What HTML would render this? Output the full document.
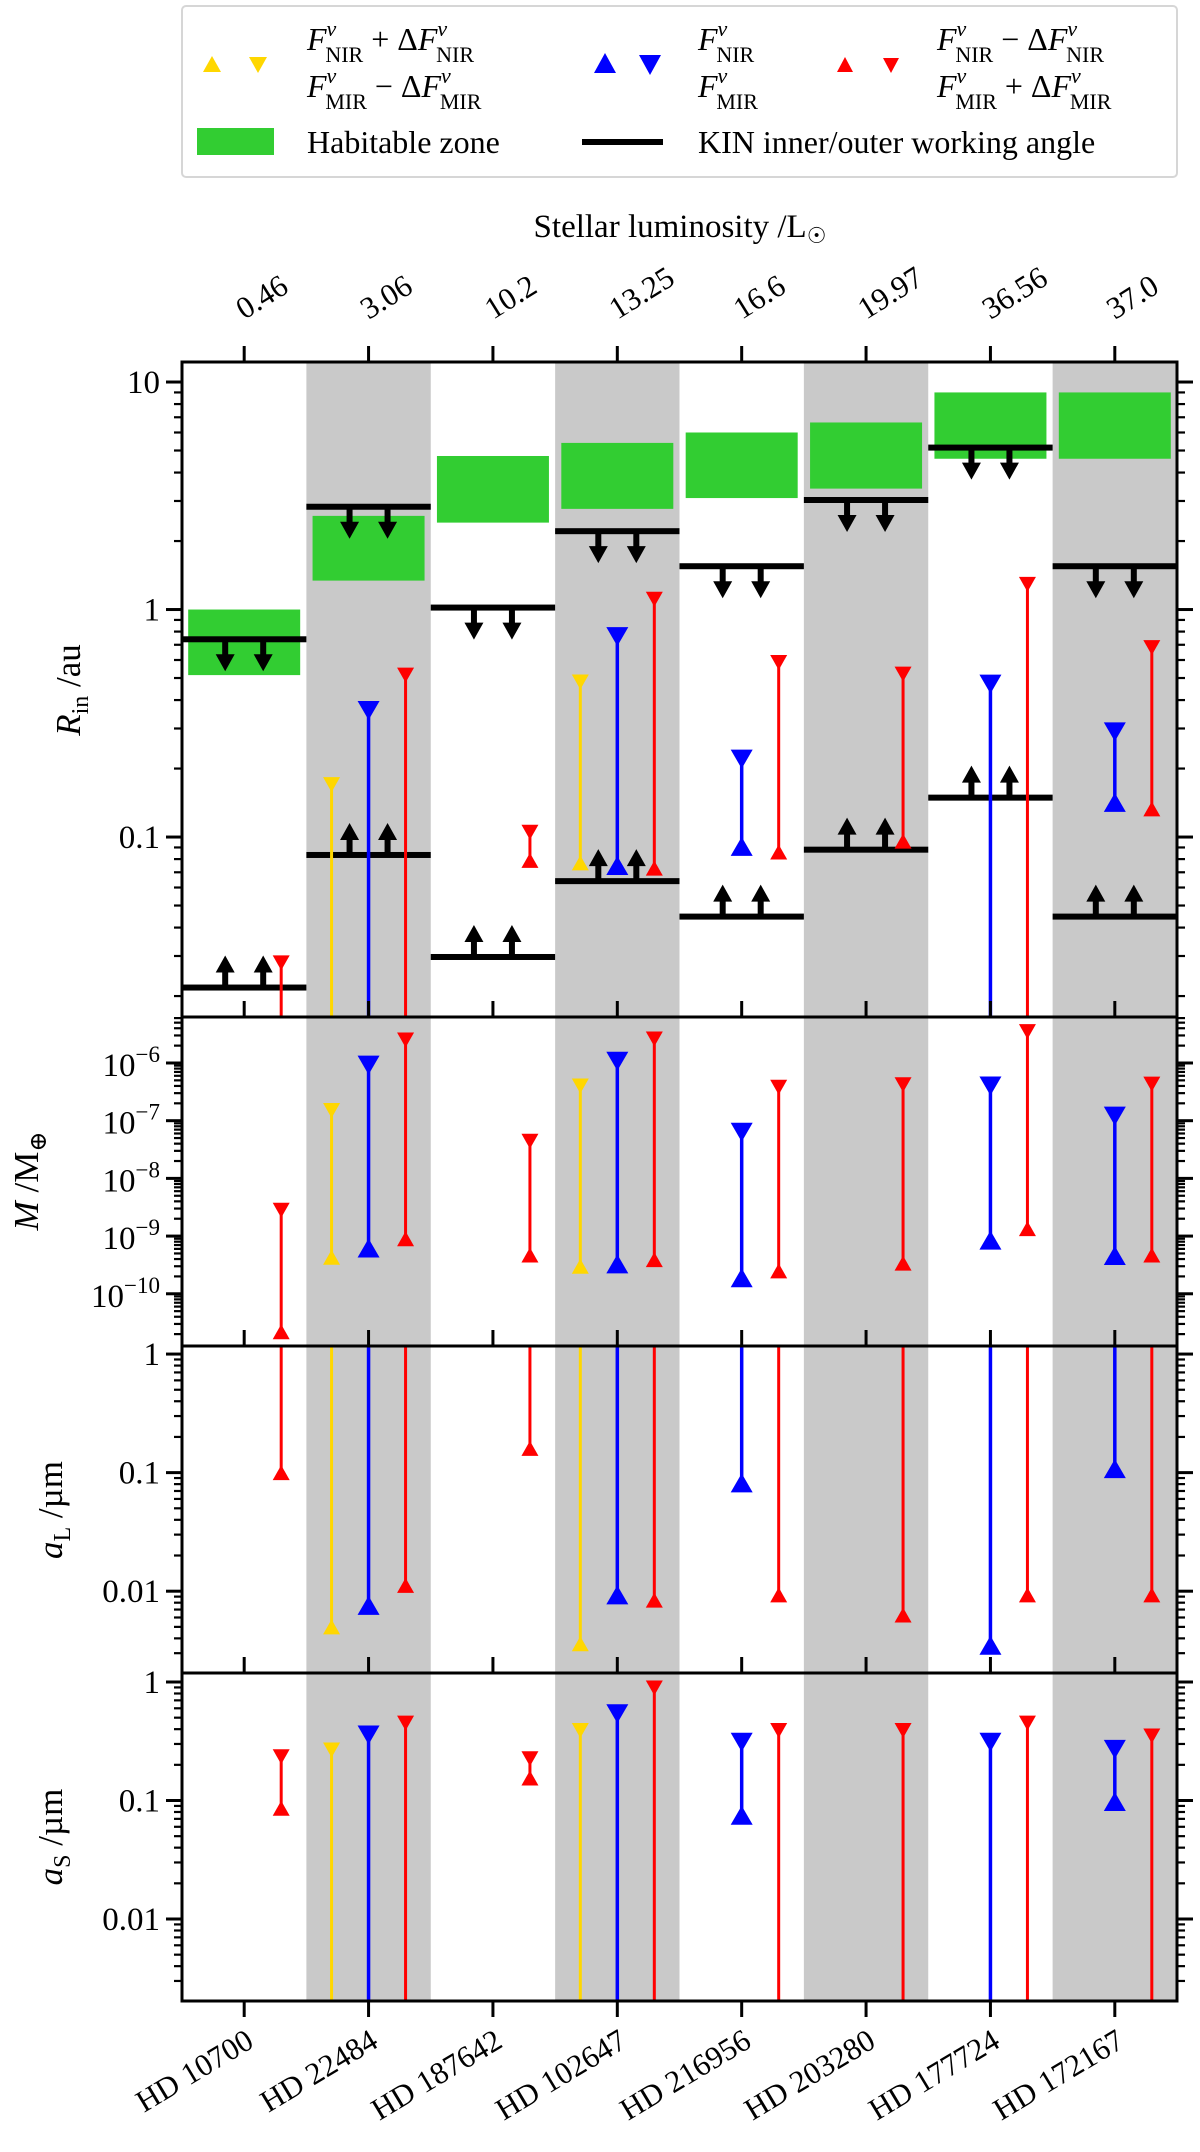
<!DOCTYPE html>
<html><head><meta charset="utf-8"><style>
html,body{margin:0;padding:0;background:#fff;width:1200px;height:2152px;overflow:hidden;}
svg{display:block;}
svg text, svg tspan{font-family:"Liberation Serif","DejaVu Serif",serif;}
</style></head><body>
<svg id="chart" xmlns="http://www.w3.org/2000/svg" width="1200" height="2152" viewBox="0 0 1200 2152" font-family="Liberation Serif, serif">
<defs id="defs"></defs>
<g id="plot"></g>
<g id="legend">
  <rect x="182" y="6" width="995" height="171" rx="4" fill="#fff" stroke="#d6d6d6" stroke-width="2"/>
  <polygon points="212,56 203,72 221,72" fill="#FFD700"/>
  <polygon points="249,57 267,57 258,73" fill="#FFD700"/>
  <text x="307" y="50" font-size="32" font-family="Liberation Serif, serif"><tspan font-style="italic">F</tspan><tspan font-size="22" dy="-14" font-style="italic">ν</tspan><tspan font-size="22" dx="-11" dy="26">NIR</tspan><tspan dy="-12"> + Δ</tspan><tspan font-style="italic">F</tspan><tspan font-size="22" dy="-14" font-style="italic">ν</tspan><tspan font-size="22" dx="-11" dy="26">NIR</tspan></text>
  <text x="307" y="97" font-size="32" font-family="Liberation Serif, serif"><tspan font-style="italic">F</tspan><tspan font-size="22" dy="-14" font-style="italic">ν</tspan><tspan font-size="22" dx="-11" dy="26">MIR</tspan><tspan dy="-12"> − Δ</tspan><tspan font-style="italic">F</tspan><tspan font-size="22" dy="-14" font-style="italic">ν</tspan><tspan font-size="22" dx="-11" dy="26">MIR</tspan></text>
  <polygon points="605,53 594,73 616,73" fill="#0000FF"/>
  <polygon points="639,55 661,55 650,75" fill="#0000FF"/>
  <text x="698" y="50" font-size="32" font-family="Liberation Serif, serif"><tspan font-style="italic">F</tspan><tspan font-size="22" dy="-14" font-style="italic">ν</tspan><tspan font-size="22" dx="-11" dy="26">NIR</tspan></text>
  <text x="698" y="97" font-size="32" font-family="Liberation Serif, serif"><tspan font-style="italic">F</tspan><tspan font-size="22" dy="-14" font-style="italic">ν</tspan><tspan font-size="22" dx="-11" dy="26">MIR</tspan></text>
  <polygon points="845,57 837,72 853,72" fill="#FF0000"/>
  <polygon points="883,58 899,58 891,73" fill="#FF0000"/>
  <text x="937" y="50" font-size="32" font-family="Liberation Serif, serif"><tspan font-style="italic">F</tspan><tspan font-size="22" dy="-14" font-style="italic">ν</tspan><tspan font-size="22" dx="-11" dy="26">NIR</tspan><tspan dy="-12"> − Δ</tspan><tspan font-style="italic">F</tspan><tspan font-size="22" dy="-14" font-style="italic">ν</tspan><tspan font-size="22" dx="-11" dy="26">NIR</tspan></text>
  <text x="937" y="97" font-size="32" font-family="Liberation Serif, serif"><tspan font-style="italic">F</tspan><tspan font-size="22" dy="-14" font-style="italic">ν</tspan><tspan font-size="22" dx="-11" dy="26">MIR</tspan><tspan dy="-12"> + Δ</tspan><tspan font-style="italic">F</tspan><tspan font-size="22" dy="-14" font-style="italic">ν</tspan><tspan font-size="22" dx="-11" dy="26">MIR</tspan></text>
  <rect x="197" y="128" width="77" height="27" fill="#32CD32"/>
  <text x="307" y="153" font-size="32" font-family="Liberation Serif, serif">Habitable zone</text>
  <rect x="582" y="139" width="81" height="6" fill="#000"/>
  <text x="698" y="153" font-size="32" font-family="Liberation Serif, serif">KIN inner/outer working angle</text>
</g>
<text x="680" y="237" font-size="33" font-family="Liberation Serif, serif" text-anchor="middle">Stellar luminosity /L<tspan font-size="22" dy="6">☉</tspan></text>
</svg>
<script>
// ---------- data ----------
const stars = ["HD 10700","HD 22484","HD 187642","HD 102647","HD 216956","HD 203280","HD 177724","HD 172167"];
const luminosity = ["0.46","3.06","10.2","13.25","16.6","19.97","36.56","37.0"];
const OFFLO = 1e-30, OFFHI = 1e30;
// Panel 1: R_in
const hzInner = [0.515,1.34,2.41,2.77,3.09,3.4,4.6,4.6];
const hzOuter = [1.0,2.58,4.73,5.4,6.0,6.64,9.0,9.0];
const kinInner = [0.0218,0.0834,0.0297,0.064,0.0447,0.088,0.149,0.0447];
const kinOuter = [0.74,2.83,1.02,2.21,1.55,3.03,5.15,1.55];
const rinYellow = [null,[OFFLO,0.17],null,[0.077,0.48],null,null,null,null];
const rinBlue = [null,[OFFLO,0.36],null,[0.075,0.76],[0.091,0.22],null,[OFFLO,0.47],[0.142,0.29]];
const rinRed = [[OFFLO,0.028],[OFFLO,0.515],[0.079,0.105],[0.073,1.11],[0.086,0.585],[0.096,0.52],[OFFLO,1.29],[0.133,0.68]];
// Panel 2: M
const mYellow = [null,[4.3e-10,1.5e-7],null,[3e-10,4e-7],null,null,null,null];
const mBlue = [null,[6.2e-10,9.2e-7],null,[3.3e-10,1.07e-6],[1.9e-10,6.3e-8],null,[8.5e-10,4e-7],[4.6e-10,1.2e-7]];
const mRed = [[2.2e-11,2.8e-9],[9e-10,2.5e-6],[4.7e-10,4.4e-8],[3.9e-10,2.6e-6],[2.5e-10,3.8e-7],[3.4e-10,4.2e-7],[1.35e-9,3.5e-6],[4.7e-10,4.3e-7]];
// Panel 3: a_L
const aLYellow = [null,[0.005,OFFHI],null,[0.0036,OFFHI],null,null,null,null];
const aLBlue = [null,[0.0076,OFFHI],null,[0.0093,OFFHI],[0.082,OFFHI],null,[0.0035,OFFHI],[0.108,OFFHI]];
const aLRed = [[0.1,OFFHI],[0.0112,OFFHI],[0.16,OFFHI],[0.0084,OFFHI],[0.0093,OFFHI],[0.0063,OFFHI],[0.0093,OFFHI],[0.0093,OFFHI]];
// Panel 4: a_S
const aSYellow = [null,[OFFLO,0.267],null,[OFFLO,0.39],null,null,null,null];
const aSBlue = [null,[OFFLO,0.357],null,[OFFLO,0.54],[0.075,0.31],null,[OFFLO,0.31],[0.098,0.27]];
const aSRed = [[0.086,0.234],[OFFLO,0.45],[0.155,0.225],[OFFLO,0.89],[OFFLO,0.39],[OFFLO,0.39],[OFFLO,0.45],[OFFLO,0.35]];
// tick labels
const p1Ticks = [[10,"10"],[1,"1"],[0.1,"0.1"]];
const p2Ticks = [[1e-6,"−6"],[1e-7,"−7"],[1e-8,"−8"],[1e-9,"−9"],[1e-10,"−10"]];
const p34Ticks = [[1,"1"],[0.1,"0.1"],[0.01,"0.01"]];

// ---------- layout ----------
const NS = "http://www.w3.org/2000/svg";
const FONT = "Liberation Serif, DejaVu Serif, serif";
const X0 = 182, X1 = 1177;
const nStar = stars.length;
const band = (X1 - X0) / nStar;
function xS(i){ return X0 + band * (i + 0.5); }
const panels = [
  {name:"rin", top:362, bot:1017, lo:-1.791, hi:1.088},
  {name:"mass", top:1017, bot:1346, lo:-10.905, hi:-5.203},
  {name:"al", top:1346, bot:1673, lo:-2.69, hi:0.068},
  {name:"as", top:1673, bot:2001, lo:-2.692, hi:0.076}
];
function yP(p, v){ return p.bot - (Math.log10(v) - p.lo) / (p.hi - p.lo) * (p.bot - p.top); }
const plot = document.getElementById("plot");
const defs = document.getElementById("defs");
function mk(tag, attrs, parent){
  const e = document.createElementNS(NS, tag);
  for (const k in attrs) e.setAttribute(k, attrs[k]);
  (parent || plot).appendChild(e);
  return e;
}

// backgrounds
const bg = mk("g", {});


for (let i = 1; i < nStar; i += 2) {
  const r = mk("rect", {x: X0 + band*i, y: 362, width: band, height: 2001-362, fill: "#c9c9c9"}, bg);
  
  
}

// clip paths
panels.forEach((p, k) => {
  const cp = mk("clipPath", {id: "clip" + k}, defs);
  mk("rect", {x: X0, y: p.top, width: X1 - X0, height: p.bot - p.top}, cp);
});

function tri(x, y, w, h, up){
  return up ? `${x},${y-h/2} ${x-w/2},${y+h/2} ${x+w/2},${y+h/2}`
            : `${x-w/2},${y-h/2} ${x+w/2},${y-h/2} ${x},${y+h/2}`;
}
function drawSeries(k, data, color, dx, w, h, lw, nm){
  const p = panels[k];
  const g = mk("g", {"clip-path": `url(#clip${k})`});
  
  
  data.forEach((d, i) => {
    if (!d) return;
    const x = xS(i) + dx;
    const yl = Math.min(yP(p, d[0]), p.bot + 50), yh = Math.max(yP(p, d[1]), p.top - 50);
    const ln = mk("line", {x1: x, x2: x, y1: yl, y2: yh, stroke: color, "stroke-width": lw}, g);
    
    
    const m1 = mk("polygon", {points: tri(x, yP(p, d[0]), w, h, true), fill: color}, g);
    
    
    const m2 = mk("polygon", {points: tri(x, yP(p, d[1]), w, h, false), fill: color}, g);
    
    
  });
}

// Panel 1 habitable zones & KIN
{
  const p = panels[0];
  const g = mk("g", {"clip-path": "url(#clip0)"});
  
  
  for (let i = 0; i < nStar; i++) {
    const yt = yP(p, hzOuter[i]), yb = yP(p, hzInner[i]);
    const r = mk("rect", {x: xS(i) - 56, y: yt, width: 112, height: yb - yt, fill: "#32CD32"}, g);
    
    
  }
  const gk = mk("g", {"clip-path": "url(#clip0)"});
  
  
  function arrow(x, y0, dir){
    const sh = 6, len = 32, hw = 9.5, hl = 17;
    const yt = y0 + dir*len, yb = y0 + dir*(len - hl);
    return `${x-sh/2},${y0} ${x+sh/2},${y0} ${x+sh/2},${yb} ${x+hw},${yb} ${x},${yt} ${x-hw},${yb} ${x-sh/2},${yb}`;
  }
  for (let i = 0; i < nStar; i++) {
    [[kinOuter[i], 1, 'outer'], [kinInner[i], -1, 'inner']].forEach(([v, dir, nm]) => {
      const y = yP(p, v);
      const l = mk("rect", {x: X0 + band*i, y: y - 3, width: band, height: 6, fill: "#000"}, gk);
      
      
      [-19, 19].forEach(o => {
        const a = mk("polygon", {points: arrow(xS(i) + o, y, dir), fill: "#000"}, gk);
        
        
      });
    });
  }
}

const YOFF = -37, ROFF = 37;
const allSeries = [
  [rinYellow, rinBlue, rinRed],
  [mYellow, mBlue, mRed],
  [aLYellow, aLBlue, aLRed],
  [aSYellow, aSBlue, aSRed]
];
allSeries.forEach((s, k) => {
  drawSeries(k, s[0], "#FFD700", YOFF, 17, 15, 3, 'yellow');
  drawSeries(k, s[1], "#0000FF", 0, 22, 19, 3.5, 'blue');
  drawSeries(k, s[2], "#FF0000", ROFF, 17, 15, 3, 'red');
});

// axes, ticks
const ax = mk("g", {stroke: "#000", fill: "none"});


panels.forEach((p, k) => {
  const fr = mk("rect", {x: X0, y: p.top, width: X1 - X0, height: p.bot - p.top, "stroke-width": 3}, ax);
  
  
  for (let i = 0; i < nStar; i++) {
    const t = mk("line", {x1: xS(i), x2: xS(i), y1: p.top, y2: p.top - 16, "stroke-width": 3}, ax);
    
    
  }
  const d0 = Math.floor(p.lo), d1 = Math.ceil(p.hi);
  for (let d = d0; d <= d1; d++) {
    for (let m = 1; m <= 9; m++) {
      const lv = d + Math.log10(m);
      if (lv < p.lo || lv > p.hi) continue;
      const y = yP(p, Math.pow(10, lv));
      const L = m === 1 ? 16 : 8, sw = m === 1 ? 3 : 2.2;
      const t1 = mk("line", {x1: X0, x2: X0 - L, y1: y, y2: y, "stroke-width": sw}, ax);
      
      
      const t2 = mk("line", {x1: X1, x2: X1 + L, y1: y, y2: y, "stroke-width": sw}, ax);
      
      
    }
  }
});
for (let i = 0; i < nStar; i++) {
  const t = mk("line", {x1: xS(i), x2: xS(i), y1: 2001, y2: 2017, "stroke-width": 3}, ax);
  
  
}

// tick labels
function ylab(p, ticks, nm){
  ticks.forEach(([v, s]) => {
    const t = mk("text", {x: X0 - 22, y: yP(p, v) + 11, "font-size": 33, "font-family": FONT, "text-anchor": "end"});
    
    
    t.textContent = s;
  });
}
ylab(panels[0], p1Ticks, 'rin');
ylab(panels[2], p34Ticks, 'al');
ylab(panels[3], p34Ticks, 'as');
p2Ticks.forEach(([v, s]) => {
  const t = mk("text", {x: X0 - 22, y: yP(panels[1], v) + 13, "font-size": 33, "font-family": FONT, "text-anchor": "end"});
  
  
  const a = mk("tspan", {}, t); a.textContent = "10";
  const b = mk("tspan", {"font-size": 23, dy: -14}, t); b.textContent = s;
});
for (let i = 0; i < nStar; i++) {
  const t = mk("text", {"font-size": 31, "font-family": FONT, "text-anchor": "end", transform: `translate(${xS(i)+4},${2034}) rotate(-31)`, x: 0, y: 14});
  
  
  t.textContent = stars[i];
  const u = mk("text", {"font-size": 31, "font-family": FONT, transform: `translate(${xS(i)},${320}) rotate(-32)`, x: 0, y: 0});
  
  
  u.textContent = luminosity[i];
}

// y axis titles
function ytitle(x, y, parts, nm){
  const t = mk("text", {"font-size": 35, "font-family": FONT, "text-anchor": "middle", transform: `translate(${x},${y}) rotate(-90)`, x: 0, y: 0});
  
  
  parts.forEach(([s, attrs]) => { const sp = mk("tspan", attrs || {}, t); sp.textContent = s; });
}
ytitle(80, 690, [["R",{"font-style":"italic"}],["in",{"font-size":24,dy:8}],[" /au",{dy:-8}]], 'rin-axis-title');
ytitle(38, 1181, [["M",{"font-style":"italic"}],[" /M",{}],["⊕",{"font-size":24,dy:8}]], 'mass-axis-title');
ytitle(62, 1510, [["a",{"font-style":"italic"}],["L",{"font-size":24,dy:8}],[" /µm",{dy:-8}]], 'al-axis-title');
ytitle(62, 1837, [["a",{"font-style":"italic"}],["S",{"font-size":24,dy:8}],[" /µm",{dy:-8}]], 'as-axis-title');
</script>
</body></html>
